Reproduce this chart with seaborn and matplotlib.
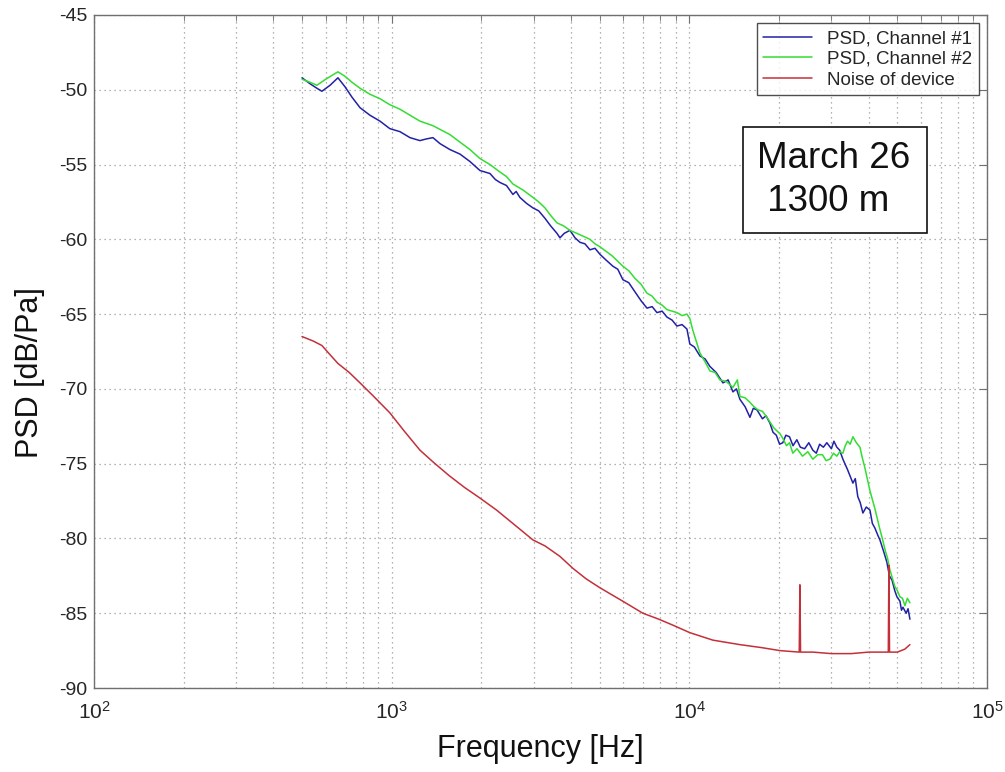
import matplotlib
matplotlib.use("Agg")
import matplotlib.pyplot as plt
from matplotlib.patches import Rectangle
from matplotlib.ticker import LogLocator, FixedLocator, NullFormatter
import pandas as pd
import seaborn as sns

# Power spectral density, channel 1 (Hz, dB/Pa)
freq_ch1 = [500, 532, 561, 583, 621, 660, 697, 736, 783, 845, 914, 986, 1066,
            1152, 1245, 1300, 1376, 1453, 1570, 1696, 1833, 1980, 2139, 2230,
            2311, 2430, 2555, 2620, 2697, 2840, 2983, 3120, 3275, 3420, 3592,
            3676, 3800, 3972, 4130, 4291, 4460, 4636, 4820, 5009, 5260, 5537,
            5750, 5981, 6260, 6561, 6880, 7205, 7500, 7786, 8100, 8411, 8750,
            9086, 9450, 9816, 10040, 10400, 10855, 11300, 11727, 12300, 12970,
            13500, 14010, 14400, 14790, 15400, 15980, 16400, 16870, 17600,
            18100, 18660, 19100, 19600, 20100, 20610, 21100, 21700, 22300,
            22970, 23600, 24400, 25200, 26000, 26700, 27400, 28200, 28970,
            30000, 30600, 31300, 32000, 32800, 34000, 35440, 36100, 36800,
            37500, 38290, 39300, 40430, 41200, 42000, 43000, 43680, 45000,
            46110, 47000, 48000, 49000, 49820, 51000, 51600, 52190, 53500,
            54300, 55080]
psd_ch1 = [-49.2, -49.6, -49.9, -50.1, -49.7, -49.2, -49.8, -50.5, -51.2,
           -51.7, -52.1, -52.6, -52.8, -53.2, -53.4, -53.3, -53.2, -53.6,
           -54.0, -54.3, -54.8, -55.4, -55.6, -56.0, -56.2, -56.4, -57.0,
           -56.8, -57.2, -57.6, -57.9, -58.1, -58.6, -59.1, -59.6, -59.9,
           -59.6, -59.4, -59.9, -60.2, -60.3, -60.7, -60.6, -61.0, -61.4,
           -61.8, -62.0, -62.7, -62.9, -63.5, -64.1, -64.6, -64.5, -64.9,
           -64.8, -65.2, -65.4, -65.8, -65.7, -66.0, -67.0, -67.2, -67.8,
           -68.0, -68.5, -68.9, -69.6, -69.4, -70.2, -70.0, -70.7, -71.2,
           -71.9, -71.3, -71.4, -72.0, -71.8, -72.3, -72.9, -73.1, -73.7,
           -73.6, -73.1, -73.2, -73.8, -73.4, -73.9, -74.0, -73.6, -74.1,
           -74.3, -73.7, -73.9, -73.6, -74.0, -73.5, -73.9, -74.1, -74.7,
           -75.4, -76.3, -76.0, -77.2, -77.6, -78.3, -77.9, -78.1, -79.0,
           -79.3, -79.8, -80.1, -80.9, -81.6, -82.5, -82.8, -83.5, -83.9,
           -84.2, -84.8, -84.6, -85.0, -84.7, -85.4]

# Power spectral density, channel 2 (Hz, dB/Pa)
freq_ch2 = [500, 532, 561, 600, 660, 697, 736, 783, 845, 914, 986, 1066, 1152,
            1245, 1376, 1570, 1696, 1833, 1980, 2139, 2311, 2430, 2555, 2760,
            2983, 3120, 3275, 3420, 3592, 3780, 3972, 4300, 4636, 4820, 5009,
            5500, 5981, 6260, 6561, 6880, 7205, 7500, 7786, 8100, 8411, 8750,
            9086, 9450, 9816, 10040, 10280, 10855, 11300, 11727, 12200, 12670,
            13300, 14010, 14500, 14790, 15400, 15980, 16500, 17000, 17600,
            18230, 19200, 20160, 20600, 21200, 21700, 22270, 23000, 24000,
            25000, 26000, 27000, 28000, 28800, 29660, 30500, 31300, 32000,
            32800, 33400, 34000, 34700, 35440, 36400, 37420, 38100, 38800,
            39600, 40430, 41200, 42000, 43680, 44500, 45500, 46300, 47180,
            48000, 49000, 50000, 50970, 52000, 53000, 54000, 55080]
psd_ch2 = [-49.3, -49.5, -49.7, -49.3, -48.8, -49.1, -49.5, -49.9, -50.3,
           -50.6, -51.0, -51.3, -51.7, -52.1, -52.4, -53.0, -53.5, -54.0,
           -54.6, -55.0, -55.5, -55.8, -56.3, -56.7, -57.2, -57.5, -57.9,
           -58.4, -58.9, -59.1, -59.4, -59.7, -60.0, -60.3, -60.5, -61.1,
           -61.8, -62.1, -62.6, -63.0, -63.6, -63.8, -64.2, -64.4, -64.7,
           -64.8, -64.9, -65.1, -65.0, -65.3, -66.1, -67.6, -68.2, -68.8,
           -68.9, -69.4, -69.5, -69.9, -69.4, -70.5, -70.6, -70.9, -71.2,
           -71.4, -71.5, -71.9, -72.6, -73.0, -73.3, -73.8, -73.6, -74.3,
           -74.0, -74.5, -74.2, -74.7, -74.4, -74.4, -74.8, -74.7, -74.3,
           -74.5, -74.2, -74.3, -73.8, -73.5, -73.7, -73.2, -73.6, -73.9,
           -74.6, -75.2, -76.0, -76.8, -77.4, -78.0, -79.4, -80.0, -80.8,
           -81.3, -82.1, -82.6, -83.2, -83.5, -83.9, -84.0, -84.5, -84.0,
           -84.3]

# Noise floor of the recording device (Hz, dB/Pa)
freq_noise = [500, 545, 583, 620, 660, 720, 783, 880, 986, 1100, 1245, 1380,
              1560, 1760, 1980, 2250, 2555, 2983, 3275, 3676, 4064, 4500,
              5009, 5981, 6980, 7900, 8810, 10040, 12000, 14790, 17500, 20160,
              23400, 23520, 23640, 26000, 30000, 35000, 40000, 46600, 46820,
              47050, 50000, 52970, 55080]
psd_noise = [-66.5, -66.8, -67.1, -67.7, -68.3, -68.9, -69.6, -70.6, -71.6,
             -72.8, -74.1, -74.9, -75.8, -76.6, -77.3, -78.1, -79.0, -80.1,
             -80.5, -81.2, -82.0, -82.7, -83.3, -84.2, -85.0, -85.4, -85.8,
             -86.3, -86.8, -87.1, -87.3, -87.5, -87.6, -83.1, -87.6, -87.6,
             -87.7, -87.7, -87.6, -87.6, -81.8, -87.6, -87.6, -87.4, -87.1]

series_names = ["PSD, Channel #1", "PSD, Channel #2", "Noise of device"]
series_colors = ["#2222a6", "#33dd33", "#c4303a"]

x_major = [1e2, 1e3, 1e4, 1e5]
y_ticks = [-90, -85, -80, -75, -70, -65, -60, -55, -50, -45]
annotation = "March 26\n 1300 m"

frames = []
for name, f, p in zip(series_names,
                      [freq_ch1, freq_ch2, freq_noise],
                      [psd_ch1, psd_ch2, psd_noise]):
    frames.append(pd.DataFrame({"freq": f, "psd": p, "series": name}))
df = pd.concat(frames, ignore_index=True)

sns.set_style("white")
plt.rcParams["font.family"] = ["Liberation Sans", "DejaVu Sans"]
plt.rcParams["mathtext.fontset"] = "custom"
plt.rcParams["mathtext.rm"] = "Liberation Sans"
plt.rcParams["axes.unicode_minus"] = False

fig = plt.figure(figsize=(10.05, 7.72), dpi=100)
ax = fig.add_axes([0.0935, 0.1088, 0.8886, 0.8718])

sns.lineplot(data=df, x="freq", y="psd", hue="series",
             palette=dict(zip(series_names, series_colors)),
             hue_order=series_names, estimator=None, sort=False,
             linewidth=1.1, ax=ax)

ax.set_xscale("log")
ax.set_xlim(x_major[0], x_major[-1])
ax.set_ylim(y_ticks[0], y_ticks[-1])
ax.xaxis.set_major_locator(FixedLocator(x_major))
ax.xaxis.set_minor_locator(LogLocator(base=10, subs=range(2, 10)))
ax.xaxis.set_minor_formatter(NullFormatter())
ax.yaxis.set_major_locator(FixedLocator(y_ticks))

grid_kw = dict(color="#9a9a9a", linestyle=(0, (1, 3)), linewidth=0.9)
ax.grid(which="both", axis="x", **grid_kw)
ax.grid(which="major", axis="y", **grid_kw)

for s in ax.spines.values():
    s.set_visible(True)
    s.set_color("#707070")
    s.set_linewidth(1.0)

ax.tick_params(which="both", direction="in", top=True, right=True,
               color="#707070")
ax.tick_params(which="major", length=6)
ax.tick_params(which="minor", length=4)
ax.tick_params(axis="x", which="major", labelsize=15, pad=9)
ax.tick_params(axis="y", which="major", labelsize=14, pad=5)

ax.set_xlabel("Frequency [Hz]", fontsize=22, labelpad=8, color="#111111")
ax.set_ylabel("PSD [dB/Pa]", fontsize=22, color="#111111")
ax.yaxis.set_label_coords(-0.055, 0.468)

leg = ax.legend(loc="upper right", fontsize=13.5, frameon=True,
                fancybox=False, edgecolor="#222222", handlelength=2.6,
                labelspacing=0.2, borderpad=0.35, borderaxespad=0.45,
                handletextpad=0.8)
leg.get_frame().set_linewidth(1.0)
for line in leg.get_lines():
    line.set_linewidth(1.1)

ax.add_patch(Rectangle((0.7268, 0.6761), 0.2060, 0.1575,
                       transform=ax.transAxes, facecolor="white",
                       edgecolor="#111111", linewidth=1.2, zorder=5))
ax.text(0.742, 0.755, annotation, transform=ax.transAxes, fontsize=26.5,
        ha="left", va="center", linespacing=1.3, color="#111111", zorder=6)

fig.savefig("out.png", dpi=100, facecolor="white")
